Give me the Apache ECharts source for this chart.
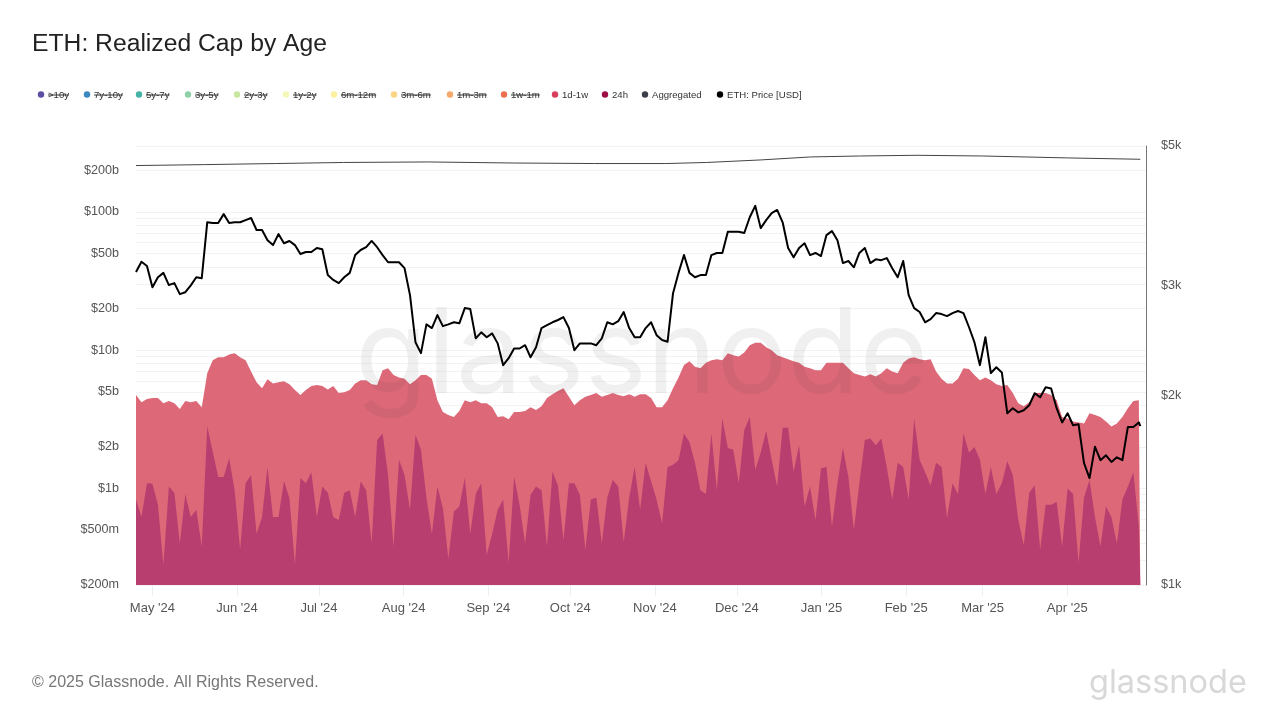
<!DOCTYPE html>
<html>
<head>
<meta charset="utf-8">
<title>ETH: Realized Cap by Age</title>
<script src="https://cdn.jsdelivr.net/npm/echarts@6/dist/echarts.min.js"></script>
<style>
html, body { margin: 0; padding: 0; background: #fff; }
#chart { width: 1280px; height: 720px; }
</style>
</head>
<body>
<div id="chart"></div>
<script>
var start_date = '2024-04-25';
var step_days = 2.0066;
var last_date = '2025-04-27T18:00:00';

// ETH price, USD
var eth_price = [
    3150,3270,3220,2980,3090,3140,3003,3025,2905,2925,
    3000,3090,3080,3780,3770,3770,3895,3770,3780,3780,
    3810,3840,3675,3675,3540,3477,3620,3500,3530,3477,
    3365,3390,3390,3440,3425,3115,3060,3025,3090,3140,
    3352,3415,3450,3530,3450,3352,3265,3265,3265,3195,
    2894,2435,2340,2600,2565,2690,2583,2600,2620,2610,
    2760,2750,2470,2525,2480,2515,2425,2239,2297,2380,
    2380,2409,2305,2390,2565,2593,2620,2642,2670,2565,
    2365,2425,2425,2425,2409,2470,2620,2600,2630,2720,
    2565,2480,2480,2565,2620,2499,2455,2440,2915,3140,
    3352,3140,3090,3115,3115,3352,3378,3378,3650,3650,
    3650,3635,3850,4015,3700,3810,3910,3955,3780,3440,
    3325,3440,3500,3352,3378,3340,3607,3660,3540,3255,
    3280,3205,3378,3440,3255,3300,3290,3315,3195,3090,
    3280,2894,2760,2720,2620,2650,2710,2700,2680,2710,
    2730,2710,2575,2435,2239,2480,2175,2222,2180,1877,
    1912,1883,1898,1933,2020,1990,2065,2055,1912,1815,
    1877,1796,1803,1563,1480,1660,1580,1609,1570,1597,
    1580,1785,1785,1815,1790
];

// 1d-1w band, $b
var age_1d_1w = [
    4.73,4.2,4.43,4.5,4.5,4.13,4.28,4.13,3.75,4.28,
    4.2,4.28,3.87,6.8,8.47,8.9,8.9,9.3,9.5,8.9,
    8.47,7.0,5.85,5.3,6.15,5.75,5.85,5.95,5.67,5.14,
    4.73,5.14,5.5,5.6,5.5,5.2,5.5,4.9,4.97,5.14,
    5.75,6.07,6.07,5.67,5.6,7.17,7.4,6.6,6.35,6.2,
    5.67,6.07,6.6,6.6,6.2,4.35,3.57,3.4,3.28,3.63,
    4.35,4.2,4.35,4.13,4.13,3.87,3.28,3.33,3.17,3.57,
    3.57,3.63,3.87,3.69,3.93,4.5,4.8,5.07,5.3,4.6,
    4.0,4.35,4.6,4.73,4.9,4.6,4.73,4.9,4.73,4.65,
    4.8,4.6,4.8,4.8,4.5,3.87,3.87,4.35,5.3,6.35,
    7.8,8.3,7.6,7.4,8.1,8.47,8.6,8.47,9.5,9.17,
    9.0,9.6,10.87,11.3,11.3,10.5,9.98,9.17,8.9,8.6,
    8.3,8.1,7.6,7.4,7.17,7.17,8.1,8.1,8.1,8.1,
    7.4,6.8,6.6,6.45,6.7,6.45,6.8,7.4,7.0,6.8,
    8.1,8.7,8.9,8.6,8.47,8.6,7.0,6.2,5.75,5.75,
    6.2,7.4,7.3,6.6,6.07,6.35,6.07,5.67,5.5,5.6,
    4.9,4.13,3.93,4.2,4.9,4.9,4.9,4.73,4.35,3.28,
    3.2,3.05,3.0,2.95,3.5,3.4,3.28,3.05,2.8,2.95,
    3.28,3.8,4.28,4.35,4.28
];

// 24h band, $b
var age_24h = [
    .83,.62,1.09,1.08,.76,.28,1.03,.93,.40,.91,
    .62,.70,.38,2.8,1.85,1.21,1.21,1.65,.97,.36,
    1.09,1.25,.47,.62,1.43,.62,.62,1.13,.85,.28,
    1.19,1.09,1.31,.62,1.03,.93,.62,.59,.93,.97,
    .62,1.12,.97,.40,2.24,2.5,1.25,.38,1.61,1.25,
    .70,2.44,1.90,.86,.47,1.03,.72,.31,.68,.74,
    1.19,.47,.91,1.09,.33,.47,.70,.83,.29,1.21,
    .76,.40,.90,1.03,.97,.38,1.32,1.05,.42,1.09,
    1.09,.90,.36,.83,.86,.40,.86,1.15,1.03,.41,
    .86,1.43,.70,1.53,1.12,.83,.56,1.43,1.48,1.6,
    2.5,2.17,1.53,.97,.91,2.5,.97,3.2,1.96,1.90,
    1.09,2.65,3.28,1.36,1.82,2.6,1.61,1.03,2.75,2.75,
    1.32,2.05,.74,1.03,.59,1.4,1.43,.53,1.09,1.96,
    1.21,.50,1.09,2.24,2.3,2.05,2.3,1.43,.83,1.53,
    1.43,.83,3.2,1.61,1.31,1.05,1.53,1.43,.61,1.09,
    .91,2.5,1.82,1.99,1.61,.91,1.43,.91,1.09,1.57,
    1.25,.59,.39,.93,1.05,.36,.76,.76,.80,.38,
    1.0,.91,.29,.86,1.15,.62,.38,.74,.62,.40,
    .83,1.03,1.31,.53,.2
];

// Aggregated, $b (slow line, sparse dates are enough)
var agg_dates = ['2024-04-25','2024-05-20','2024-06-15','2024-07-10','2024-08-10','2024-09-10','2024-10-10','2024-11-05','2024-11-20','2024-12-10','2024-12-28','2025-01-15','2025-02-05','2025-03-01','2025-04-01','2025-04-27T18:00:00'];
var agg_values = [216.6,220,224,228,230,226,224,224,228,238,250,254,257,254,246,240.5];

var month_ticks = ['2024-05-01','2024-06-01','2024-07-01','2024-08-01','2024-09-01','2024-10-01','2024-11-01','2024-12-01','2025-01-01','2025-02-01','2025-03-01','2025-04-01'];
var left_ticks = [2e8,5e8,1e9,2e9,5e9,1e10,2e10,5e10,1e11,2e11];
var right_ticks = [1000,2000,3000,5000];
var left_grid = [2e8,3e8,4e8,5e8,6e8,7e8,8e8,9e8,1e9,2e9,3e9,4e9,5e9,6e9,7e9,8e9,9e9,1e10,2e10,3e10,4e10,5e10,6e10,7e10,8e10,9e10,1e11,2e11,3e11];

var legend_names = ['>10y','7y-10y','5y-7y','3y-5y','2y-3y','1y-2y','6m-12m','3m-6m','1m-3m','1w-1m','1d-1w','24h','Aggregated','ETH: Price [USD]'];
var legend_colors = ['#5b4fa3','#3b87bf','#46b3a8','#8fd0a6','#c9e6a0','#f4f7b8','#fdf0a0','#fbd583','#f4a86a','#ec6f50','#d73f5c','#9e0d46','#3a3f4a','#000000'];
var legend_x = [41,87,139,188,237,286,334,394,450,504,555,605,645,720];
var legend_off = 10;    // first 10 entries are switched off

var month_names = ['Jan','Feb','Mar','Apr','May','Jun','Jul','Aug','Sep','Oct','Nov','Dec'];
var font = '"Liberation Sans", Arial, sans-serif';

function build_dates() {
    var t0 = new Date(start_date + 'T00:00:00').getTime();
    var dates = [];
    for (var i = 0; i < eth_price.length; i++) {
	dates.push(t0 + i * step_days * 86400000);
    }
    dates[dates.length - 1] = new Date(last_date).getTime();
    return dates;
}
function zip(dates, values, mul) {
    return values.map(function(v, i) {
	return [dates[i], v * mul];
    });
}
function fmt_left(v) {
    v = Math.round(v);
    if (v >= 1e9) return '$' + Math.round(v / 1e9) + 'b';
    return '$' + Math.round(v / 1e6) + 'm';
}
function fmt_right(v) {
    return '$' + Math.round(v / 1000) + 'k';
}
function fmt_month(v) {
    var d = new Date(v);
    return month_names[d.getMonth()] + " '" + String(d.getFullYear()).slice(2);
}
function build_legend() {
    var ctx = document.createElement('canvas').getContext('2d');
    ctx.font = '9.6px ' + font;
    var items = [];
    legend_names.forEach(function(name, i) {
	var x = legend_x[i];
	items.push({ type: 'circle', shape: { cx: x, cy: 94.5, r: 3.2 }, style: { fill: legend_colors[i] } });
	items.push({ type: 'text', x: x + 7, y: 95, style: { text: name, fill: '#333', font: '9.6px ' + font, textVerticalAlign: 'middle' } });
	if (i < legend_off) {
	    var w = ctx.measureText(name).width;
	    items.push({ type: 'line', shape: { x1: x + 7, y1: 95, x2: x + 7 + w, y2: 95 }, style: { stroke: '#333', lineWidth: 1 } });
	}
    });
    return items;
}

var dates = build_dates();
var month_stamps = month_ticks.map(function(d) { return new Date(d + 'T00:00:00').getTime(); });
var agg_stamps = agg_dates.map(function(d) { return new Date(d.length > 10 ? d : d + 'T00:00:00').getTime(); });

var option = {
    animation: false,
    backgroundColor: '#ffffff',
    title: {
	text: 'ETH: Realized Cap by Age',
	left: 32,
	top: 32,
	padding: 0,
	textStyle: { fontFamily: font, fontSize: 24.7, fontWeight: 'normal', color: '#222' }
    },
    grid: { left: 136, right: 134, top: 146, bottom: 135 },
    xAxis: {
	type: 'value',
	scale: true,
	min: new Date(start_date + 'T00:00:00').getTime(),
	max: new Date('2025-04-29T20:00:00').getTime(),
	axisLine: { show: false },
	axisTick: { show: true, length: 11, customValues: month_stamps, lineStyle: { color: '#eeeeee' } },
	axisLabel: { customValues: month_stamps, formatter: fmt_month, margin: 17, fontFamily: font, fontSize: 13, color: '#555', hideOverlap: false },
	splitLine: { show: false }
    },
    yAxis: [
	{
	    type: 'log',
	    min: 2e8,
	    max: 3e11,
	    axisLine: { show: false },
	    axisTick: { show: false, customValues: left_grid },
	    axisLabel: { customValues: left_ticks, formatter: fmt_left, margin: 17, fontFamily: font, fontSize: 12.6, color: '#555' },
	    splitLine: { show: true, lineStyle: { color: '#f3f3f3', width: 1 } }
	},
	{
	    type: 'log',
	    min: 1000,
	    max: 5000,
	    position: 'right',
	    axisLine: { show: true, lineStyle: { color: '#777', width: 1 } },
	    axisTick: { show: false },
	    axisLabel: { customValues: right_ticks, formatter: fmt_right, margin: 15, fontFamily: font, fontSize: 12.6, color: '#555' },
	    splitLine: { show: false }
	}
    ],
    series: [
	{
	    name: '1d-1w',
	    type: 'line',
	    yAxisIndex: 0,
	    z: 2,
	    showSymbol: false,
	    lineStyle: { width: 0 },
	    itemStyle: { color: '#dd6878' },
	    areaStyle: { color: '#dd6878', opacity: 1, origin: 'start' },
	    data: zip(dates, age_1d_1w, 1e9)
	},
	{
	    name: '24h',
	    type: 'line',
	    yAxisIndex: 0,
	    z: 3,
	    showSymbol: false,
	    lineStyle: { width: 0 },
	    itemStyle: { color: '#b83e70' },
	    areaStyle: { color: '#b83e70', opacity: 1, origin: 'start' },
	    data: zip(dates, age_24h, 1e9)
	},
	{
	    name: 'Aggregated',
	    type: 'line',
	    yAxisIndex: 0,
	    z: 6,
	    showSymbol: false,
	    lineStyle: { width: 1, color: '#444' },
	    data: zip(agg_stamps, agg_values, 1e9)
	},
	{
	    name: 'ETH: Price [USD]',
	    type: 'line',
	    yAxisIndex: 1,
	    z: 7,
	    showSymbol: false,
	    lineStyle: { width: 2, color: '#000', join: 'round' },
	    data: zip(dates, eth_price, 1)
	}
    ],
    graphic: build_legend().concat([
	{ type: 'text', x: 355, y: 358, z: 4, style: { text: 'glassnode', fill: 'rgba(60,60,60,0.08)', font: '118px Inter, Lato, sans-serif', textVerticalAlign: 'middle' } },
	{ type: 'text', x: 32, y: 683, style: { text: '\u00a9 2025 Glassnode. All Rights Reserved.', fill: '#777', font: '16px ' + font, textVerticalAlign: 'middle' } },
	{ type: 'text', x: 1089, y: 683, style: { text: 'glassnode', fill: '#d8d8d8', font: '32.5px Inter, Lato, sans-serif', textVerticalAlign: 'middle' } }
    ])
};

var chart = echarts.init(document.getElementById('chart'));
chart.setOption(option);
</script>
</body>
</html>
